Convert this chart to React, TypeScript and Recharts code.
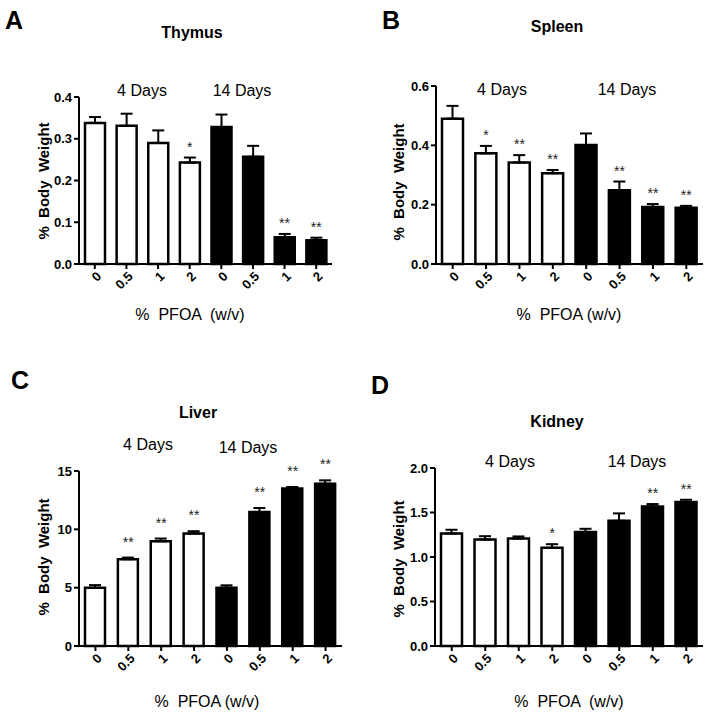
import { ComposedChart, Bar, Cell, Line, XAxis, YAxis, ErrorBar, LabelList } from "recharts";

const doses = ["0", "0.5", "1", "2", "0", "0.5", "1", "2"];

const thymusMean = [0.338, 0.331, 0.29, 0.243, 0.328, 0.257, 0.064, 0.057];
const thymusSem = [0.014, 0.029, 0.03, 0.012, 0.03, 0.026, 0.008, 0.006];
const thymusSig = ["", "", "", "*", "", "", "**", "**"];

const spleenMean = [0.49, 0.373, 0.342, 0.306, 0.401, 0.249, 0.192, 0.19];
const spleenSem = [0.043, 0.025, 0.025, 0.011, 0.039, 0.029, 0.01, 0.006];
const spleenSig = ["", "*", "**", "**", "", "**", "**", "**"];

const liverMean = [4.99, 7.44, 8.98, 9.64, 4.99, 11.49, 13.49, 13.91];
const liverSem = [0.23, 0.14, 0.23, 0.2, 0.21, 0.34, 0.14, 0.29];
const liverSig = ["", "**", "**", "**", "", "**", "**", "**"];

const kidneyMean = [1.265, 1.197, 1.208, 1.103, 1.28, 1.407, 1.568, 1.617];
const kidneySem = [0.041, 0.037, 0.023, 0.041, 0.037, 0.083, 0.027, 0.026];
const kidneySig = ["", "", "", "*", "", "", "**", "**"];

const FONT = "'Liberation Sans', Arial, sans-serif";

function buildRows(mean: number[], sem: number[], sig: string[]) {
  return doses.map((d, i) => ({
    id: `g${i}`,
    dose: d,
    mean: mean[i],
    err: [0, sem[i]],
    top: mean[i] + sem[i],
    sig: sig[i],
  }));
}

const XTick = (props: any) => {
  const { x, y, payload } = props;
  const ax = x + 4;
  const ay = y + 3;
  return (
    <text
      x={ax}
      y={ay}
      dy="0.35em"
      transform={`rotate(-45 ${ax} ${ay})`}
      textAnchor="end"
      fontSize={13}
      fontWeight="bold"
      fontFamily={FONT}
      fill="#000"
    >
      {doses[payload.index] ?? payload.value}
    </text>
  );
};

interface PanelProps {
  rows: ReturnType<typeof buildRows>;
  left: number;
  top: number;
  width: number;
  height: number;
  margin: { top: number; right: number; bottom: number; left: number };
  yWidth: number;
  domain: [number, number];
  ticks: number[];
  fmt: (v: number) => string;
  barSize: number;
  starGap: number;
}

function Panel(p: PanelProps) {
  const starLabel = (props: any) => {
    const { x, y, value } = props;
    if (!value) return null;
    return (
      <text x={x} y={y - p.starGap} textAnchor="middle" fontSize={14} fontFamily={FONT} fill="#222">
        {value}
      </text>
    );
  };
  return (
    <div style={{ position: "absolute", left: p.left, top: p.top }}>
      <ComposedChart width={p.width} height={p.height} data={p.rows} margin={p.margin}>
        <XAxis
          dataKey="id"
          axisLine={{ stroke: "#000", strokeWidth: 2 }}
          tickLine={{ stroke: "#000", strokeWidth: 2 }}
          tickSize={5}
          tick={<XTick />}
          interval={0}
          height={40}
        />
        <YAxis
          width={p.yWidth}
          domain={p.domain}
          ticks={p.ticks}
          tickFormatter={p.fmt}
          axisLine={{ stroke: "#000", strokeWidth: 2 }}
          tickLine={{ stroke: "#000", strokeWidth: 2 }}
          tickSize={5}
          tickMargin={2}
          tick={{ fill: "#000", fontSize: 13, fontWeight: "bold", fontFamily: FONT }}
        />
        <Bar dataKey="mean" barSize={p.barSize} stroke="#000" strokeWidth={2.5} isAnimationActive={false}>
          {p.rows.map((r, i) => (
            <Cell key={r.id} fill={i < 4 ? "#fff" : "#000"} />
          ))}
          <ErrorBar dataKey="err" direction="y" width={6} stroke="#000" strokeWidth={2} />
        </Bar>
        <Line dataKey="top" stroke="none" dot={false} activeDot={false} isAnimationActive={false}>
          <LabelList dataKey="sig" content={starLabel} />
        </Line>
      </ComposedChart>
    </div>
  );
}

const Txt = (props: { x: number; y: number; size: number; bold?: boolean; rotate?: boolean; children: string }) => (
  <div
    style={{
      position: "absolute",
      left: props.x,
      top: props.y,
      transform: `translate(-50%, -50%)${props.rotate ? " rotate(-90deg)" : ""}`,
      fontSize: props.size,
      fontWeight: props.bold ? "bold" : "normal",
      fontFamily: FONT,
      whiteSpace: "pre",
      color: "#000",
      lineHeight: 1,
    }}
  >
    {props.children}
  </div>
);

export default function App() {
  const f1 = (v: number) => v.toFixed(1);
  const f0 = (v: number) => String(v);
  return (
    <div style={{ position: "absolute", left: 0, top: 0, width: 711, height: 721, background: "#fff", overflow: "hidden" }}>
      <Panel
        rows={buildRows(thymusMean, thymusSem, thymusSig)}
        left={0}
        top={0}
        width={355}
        height={330}
        margin={{ top: 97, right: 23, bottom: 26, left: 0 }}
        yWidth={79}
        domain={[0, 0.4]}
        ticks={[0, 0.1, 0.2, 0.3, 0.4]}
        fmt={f1}
        barSize={20}
        starGap={6}
      />
      <Panel
        rows={buildRows(spleenMean, spleenSem, spleenSig)}
        left={355}
        top={0}
        width={356}
        height={330}
        margin={{ top: 86, right: 8, bottom: 26, left: 0 }}
        yWidth={81}
        domain={[0, 0.6]}
        ticks={[0, 0.2, 0.4, 0.6]}
        fmt={f1}
        barSize={21}
        starGap={6}
      />
      <Panel
        rows={buildRows(liverMean, liverSem, liverSig)}
        left={0}
        top={365}
        width={355}
        height={356}
        margin={{ top: 106, right: 13, bottom: 35, left: 0 }}
        yWidth={79}
        domain={[0, 15]}
        ticks={[0, 5, 10, 15]}
        fmt={f0}
        barSize={20}
        starGap={11}
      />
      <Panel
        rows={buildRows(kidneyMean, kidneySem, kidneySig)}
        left={355}
        top={365}
        width={356}
        height={356}
        margin={{ top: 103, right: 8, bottom: 35, left: 0 }}
        yWidth={80}
        domain={[0, 2]}
        ticks={[0, 0.5, 1, 1.5, 2]}
        fmt={f1}
        barSize={21}
        starGap={6}
      />

      <Txt x={14} y={20} size={25} bold>A</Txt>
      <Txt x={391} y={20} size={25} bold>B</Txt>
      <Txt x={20} y={380} size={25} bold>C</Txt>
      <Txt x={380} y={385} size={25} bold>D</Txt>

      <Txt x={192} y={33} size={16} bold>Thymus</Txt>
      <Txt x={557} y={27} size={16} bold>Spleen</Txt>
      <Txt x={198} y={413} size={16} bold>Liver</Txt>
      <Txt x={557} y={422} size={16} bold>Kidney</Txt>

      <Txt x={142} y={91} size={16}>4 Days</Txt>
      <Txt x={242} y={91} size={16}>14 Days</Txt>
      <Txt x={502} y={90} size={16}>4 Days</Txt>
      <Txt x={627} y={90} size={16}>14 Days</Txt>
      <Txt x={148} y={445} size={16}>4 Days</Txt>
      <Txt x={248} y={448} size={16}>14 Days</Txt>
      <Txt x={510} y={462} size={16}>4 Days</Txt>
      <Txt x={637} y={462} size={16}>14 Days</Txt>

      <Txt x={190} y={315} size={16}>{"%  PFOA  (w/v)"}</Txt>
      <Txt x={569} y={315} size={16}>{"%  PFOA (w/v)"}</Txt>
      <Txt x={207} y={702} size={16}>{"%  PFOA (w/v)"}</Txt>
      <Txt x={569} y={702} size={16}>{"%  PFOA  (w/v)"}</Txt>

      <Txt x={43} y={181} size={15} bold rotate>{"%  Body  Weight"}</Txt>
      <Txt x={398} y={182} size={15} bold rotate>{"%  Body  Weight"}</Txt>
      <Txt x={43} y={557} size={15} bold rotate>{"%  Body  Weight"}</Txt>
      <Txt x={398} y={559} size={15} bold rotate>{"%  Body  Weight"}</Txt>
    </div>
  );
}
